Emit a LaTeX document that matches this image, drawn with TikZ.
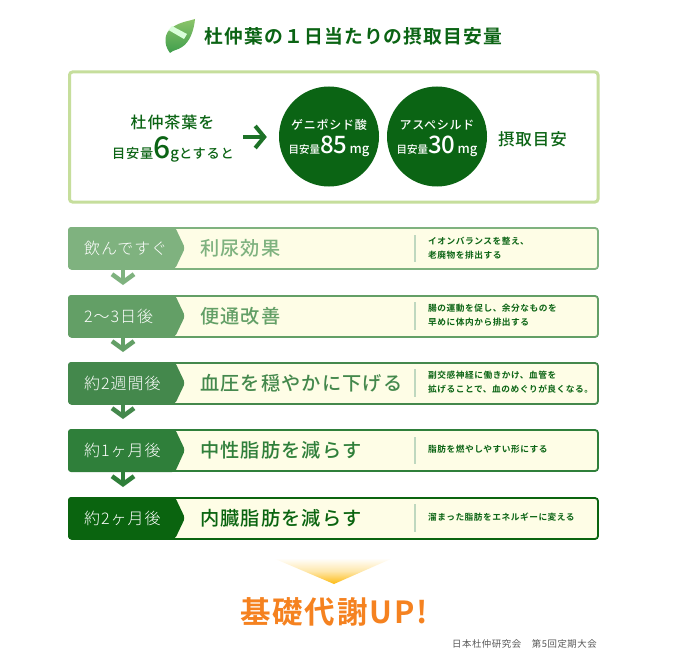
\documentclass[tikz,border=0pt]{standalone}
\usepackage{fontspec}
\setmainfont{Noto Sans CJK JP Medium}
\newfontfamily\jpbold[LetterSpace=6]{Noto Sans CJK JP Bold}
\newfontfamily\jpmed[LetterSpace=6]{Noto Sans CJK JP Medium}
\newfontfamily\jplight[LetterSpace=6]{Noto Sans CJK JP Light}
\newfontfamily\jpreg[LetterSpace=6]{Noto Sans CJK JP}
\usetikzlibrary{arrows.meta}
\definecolor{boxline}{HTML}{C6DE9C}
\definecolor{rowfill}{HTML}{FEFDE6}
\definecolor{deepgreen}{HTML}{0B6414}
\definecolor{rowa}{HTML}{7FB27F}
\definecolor{rowb}{HTML}{639F66}
\definecolor{rowc}{HTML}{44884C}
\definecolor{rowd}{HTML}{2F7F3A}
\definecolor{rowe}{HTML}{0A640F}
\definecolor{upcolor}{HTML}{F58220}
\definecolor{leaflight}{HTML}{8CC46A}
\definecolor{leafdark}{HTML}{3F9E4C}
\definecolor{glowtip}{HTML}{FDBB12}
\tikzset{
  rowbox/.style={draw=#1,line width=1.8pt,fill=rowfill,rounded corners=3pt},
  taglabel/.style={anchor=west,text=white,font=\jplight\fontsize{16}{16}\selectfont},
  headlabel/.style={anchor=west,text=#1,font=\jpmed\fontsize{19.2}{19.2}\selectfont},
  desclabel/.style={anchor=west,text=deepgreen,align=left,font=\jpbold\fontsize{8.7}{13.5}\selectfont},
  downarrow/.style={draw=#1,line width=4.5pt,-{Straight Barb[length=8pt,width=22pt,line width=4.5pt]},shorten >=10pt},
  dose/.style={circle,fill=deepgreen,minimum size=100pt},
  dosetext/.style={text=white,font=\jpmed\fontsize{12}{12}\selectfont},
  doseamount/.style={text=white,font=\normalfont\fontsize{10.5}{10.5}\selectfont},
}
\begin{document}
\begin{tikzpicture}[x=1pt,y=1pt]
\tikzstyle{every node}+=[inner sep=0pt]
\useasboundingbox (0,0) rectangle (680,-666);
\fill [white] (0,0) rectangle (680,-666);
% leaf
\shade [top color=leaflight,bottom color=leafdark] (170,-53) .. controls (163,-44) and (164,-32) .. (173,-27) .. controls (180,-22) and (189,-21) .. (195,-19) .. controls (194,-30) and (190,-42) .. (182,-47) .. controls (178,-50) and (173,-50) .. (170,-53);
\fill [white!85!green] (168.5,-30) -- (172,-26) -- (187,-34) -- (184,-39) -- cycle;
% heading
\node (title) at (353.5,-36) [text=deepgreen,font=\jpbold\fontsize{18.8}{18.8}\selectfont] {杜仲葉の１日当たりの摂取目安量};
% dose box
\draw [boxline,line width=3pt,rounded corners=3pt] (69.5,-72) rectangle (598,-202);
\node (teaa) at (172.5,-122) [text=deepgreen,font=\jpmed\fontsize{16}{16}\selectfont] {杜仲茶葉を};
\node (teab) at (173,-149) [text=deepgreen,font=\jpmed\fontsize{13.2}{13.2}\selectfont] {目安量{\normalfont\fontsize{30}{30}\selectfont 6}{\fontsize{15}{15}\selectfont g}とすると};
\coordinate (arrowa) at (243,-137);
\node (dosea) at (329,-136.5) [dose] {};
\node (doseb) at (437,-136.5) [dose] {};
\draw [-{Straight Barb[length=9pt,width=22pt,line width=4pt]},line width=4pt,draw=rowd!50!deepgreen,shorten >=12pt] (arrowa) -- (dosea.west |- arrowa);
\node (doseaname) at (329,-125) [dosetext] {ゲニポシド酸};
\node (doseaamt) at (329,-146) [doseamount] {目安量{\fontsize{24}{24}\selectfont 85}{\fontsize{13}{13}\selectfont\,mg}};
\node (dosebname) at (437,-125) [dosetext] {アスペシルド};
\node (dosebamt) at (437,-146) [doseamount] {目安量{\fontsize{24}{24}\selectfont 30}{\fontsize{13}{13}\selectfont\,mg}};
\node (intake) at (532.5,-139) [text=deepgreen,font=\jpmed\fontsize{16.5}{16.5}\selectfont] {摂取目安};
% row 1
\draw [rowbox=rowa] (69,-228) rectangle (598,-269);
\fill [rowa,rounded corners=3pt] (68,-227) -- (175,-227) -- (185,-248) -- (175,-269) -- (68,-269) -- cycle;
\draw [rowa!50,line width=1.2pt] (415,-235) -- (415,-262);
\node (taga) at (84,-248) [taglabel] {飲んですぐ};
\node (heada) at (200,-248) [headlabel=rowa] {利尿効果};
\node (desca) at (428,-248) [desclabel] {イオンバランスを整え、\\老廃物を排出する};
% row 2
\draw [rowbox=rowb] (69,-296) rectangle (598,-337);
\fill [rowb,rounded corners=3pt] (68,-295) -- (175,-295) -- (185,-316) -- (175,-337) -- (68,-337) -- cycle;
\draw [rowa!50,line width=1.2pt] (415,-302) -- (415,-330);
\node (tagb) at (84,-316) [taglabel] {2～3日後};
\node (headb) at (200,-316) [headlabel=rowb] {便通改善};
\node (descb) at (428,-315) [desclabel] {腸の運動を促し、余分なものを\\早めに体内から排出する};
% row 3
\draw [rowbox=rowc] (69,-363) rectangle (598,-404);
\fill [rowc,rounded corners=3pt] (68,-362) -- (175,-362) -- (185,-383) -- (175,-404) -- (68,-404) -- cycle;
\draw [rowa!50,line width=1.2pt] (415,-369) -- (415,-397);
\node (tagc) at (84,-383) [taglabel] {約2週間後};
\node (headc) at (200,-383) [headlabel=rowc] {血圧を穏やかに下げる};
\node (descc) at (428,-382) [desclabel] {副交感神経に働きかけ、血管を\\拡げることで、血のめぐりが良くなる。};
% row 4
\draw [rowbox=rowd] (69,-430) rectangle (598,-471);
\fill [rowd,rounded corners=3pt] (68,-429) -- (175,-429) -- (185,-450) -- (175,-472) -- (68,-472) -- cycle;
\draw [rowa!50,line width=1.2pt] (415,-437) -- (415,-464);
\node (tagd) at (84,-450) [taglabel] {約1ヶ月後};
\node (headd) at (200,-450) [headlabel=rowd] {中性脂肪を減らす};
\node (descd) at (428,-449) [desclabel] {脂肪を燃やしやすい形にする};
% row 5
\draw [rowbox=rowe] (69,-498) rectangle (598,-539);
\fill [rowe,rounded corners=3pt] (68,-497) -- (175,-497) -- (185,-518) -- (175,-539) -- (68,-539) -- cycle;
\draw [rowa!50,line width=1.2pt] (415,-504) -- (415,-532);
\node (tage) at (84,-518) [taglabel] {約2ヶ月後};
\node (heade) at (200,-518) [headlabel=rowe] {内臓脂肪を減らす};
\node (desce) at (428,-517) [desclabel] {溜まった脂肪をエネルギーに変える};
% arrows between the rows
\coordinate (stepa) at (123,-269);
\coordinate (stepb) at (123,-295);
\coordinate (stepc) at (123,-337);
\coordinate (stepd) at (123,-362);
\coordinate (stepe) at (123,-404);
\coordinate (stepf) at (123,-429);
\coordinate (stepg) at (123,-472);
\coordinate (steph) at (123,-497);
\draw [downarrow=rowa] (stepa) -- (stepb);
\draw [downarrow=rowb] (stepc) -- (stepd);
\draw [downarrow=rowc] (stepe) -- (stepf);
\draw [downarrow=rowd] (stepg) -- (steph);
% result
\shade [top color=white,bottom color=glowtip,middle color=glowtip!35] (273,-558) -- (393,-558) -- (334,-584) -- cycle;
\node (result) at (334,-612) [text=upcolor,font=\jpbold\fontsize{30.5}{30.5}\selectfont] {基礎代謝UP!};
\node (source) at (597,-644) [anchor=east,text=black!65,font=\jpreg\fontsize{9.4}{9.4}\selectfont] {日本杜仲研究会　第5回定期大会};
\end{tikzpicture}
\end{document}
